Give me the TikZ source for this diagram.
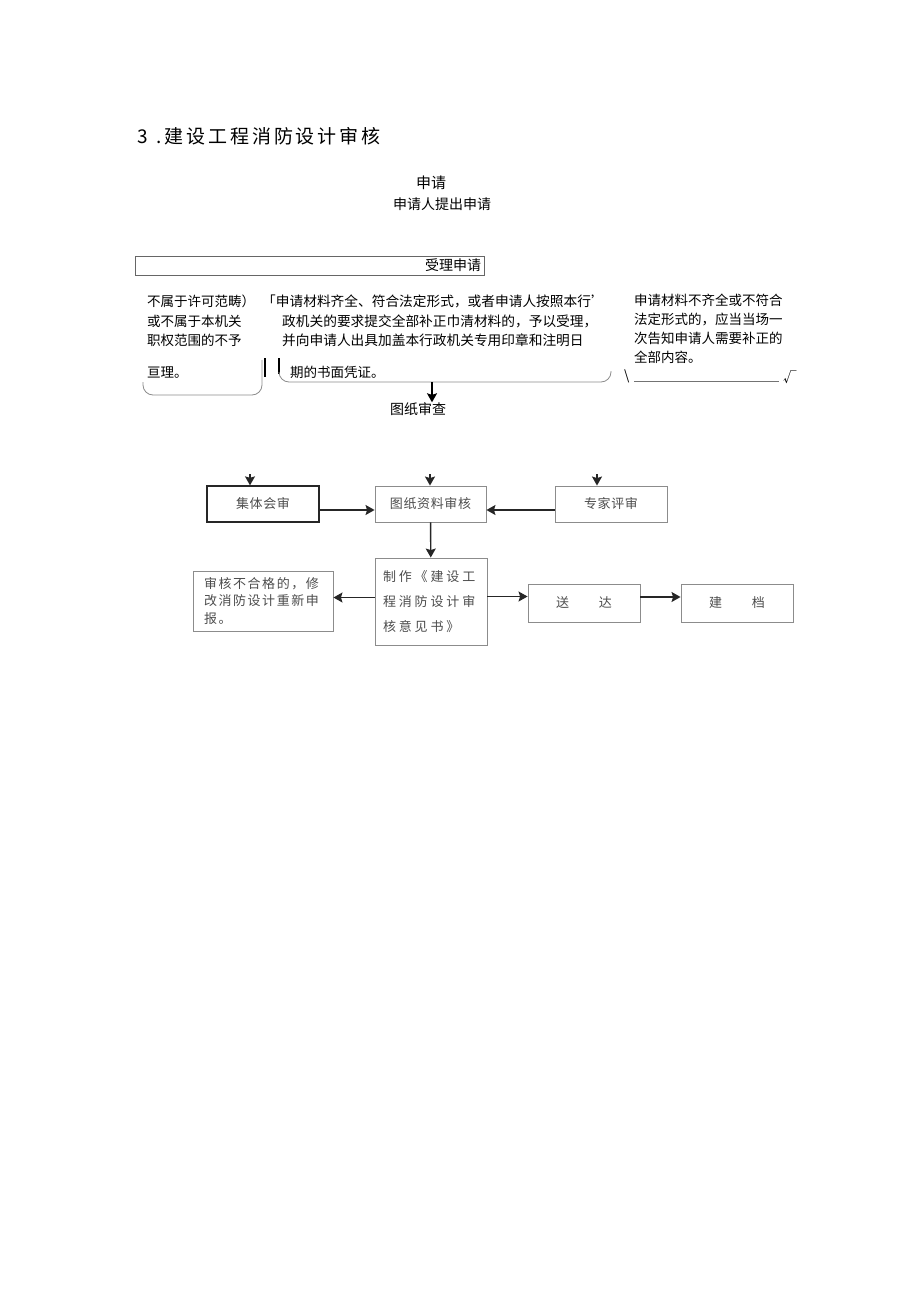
\documentclass[tikz,border=0pt]{standalone}
\usepackage{fontspec}
\setmainfont{Noto Sans CJK SC}
\usetikzlibrary{arrows.meta,positioning}

\begin{document}
\begin{tikzpicture}[x=1pt,y=-1pt,>={Stealth[length=9pt,width=10pt,inset=1.5pt]},
    txt/.style={inner sep=0pt,font=\fontsize{13.5}{19.5}\selectfont,align=left},
    flowbox/.style={draw=black!45,line width=0.9pt,minimum width=112pt,minimum height=36pt,
      inner sep=3pt,text=black!70,font=\fontsize{13}{25}\selectfont\addfontfeature{LetterSpace=5}},
    flow/.style={->,line width=1.4pt,black!85},
    brace/.style={black!45,line width=0.8pt,rounded corners=10pt}]
  \useasboundingbox (0,0) rectangle (920,1301);

  % heading
  \node[anchor=west,inner sep=0pt,font=\fontsize{19}{19}\selectfont] (title) at (137,136)
    {3\hspace{9pt}\addfontfeature{LetterSpace=15}.建设工程消防设计审核};

  % application
  \node[inner sep=0pt,font=\fontsize{15}{15}\selectfont] (sq) at (431,183) {申请};
  \node[inner sep=0pt,font=\fontsize{14}{14}\selectfont] (sqr) at (442,204) {申请人提出申请};

  \node[draw=black!60,line width=0.8pt,minimum height=19pt,text width=343pt,inner sep=3pt,
        align=right,font=\fontsize{14}{14}\selectfont] (slsq) at (309.5,265.5) {受理申请};

  % three outcomes
  \node[txt,anchor=north west] (bsl) at (147,295)
    {不属于许可范畴）\\或不属于本机关\\职权范围的不予};
  \node[txt,anchor=west] (bsl2) at (147,373) {亘理。};

  \node[txt,anchor=north west,font=\fontsize{13.7}{19.5}\selectfont] (yssl) at (262,295)
    {「申请材料齐全、符合法定形式，或者申请人按照本行’\\
     \hspace{20pt}政机关的要求提交全部补正巾清材料的，予以受理，\\
     \hspace{20pt}并向申请人出具加盖本行政机关专用印章和注明日};
  \node[txt,anchor=west] (yssl2) at (290,372) {期的书面凭证。};

  \node[txt,anchor=north west,font=\fontsize{13.5}{18.8}\selectfont] (bq) at (634,294)
    {申请材料不齐全或不符合\\法定形式的，应当当场一\\次告知申请人需要补正的\\全部内容。};
  \node[txt,anchor=west] (bq1) at (624,376) {\textbackslash};
  \node[txt,anchor=west] (bq2) at (783,377) {√};
  \draw[black!55,line width=0.7pt] (634,381) -- (779,381);

  % brackets
  \draw[brace] (262,360) -- (262,395) -- (143,395) -- (143,382);
  \draw[line width=2.2pt] (265,358) -- (265,377);
  \draw[line width=2.2pt] (279,358) -- (279,374);
  \draw[brace] (279,372) -- (279,382) -- (611,382) -- (611,371);

  \coordinate (ysout) at (432,382);
  \node[inner sep=0pt,font=\fontsize{14}{14}\selectfont] (tzsc) at (418,409) {图纸审查};
  \draw[->,line width=1.2pt] (ysout) -- (ysout |- tzsc.north);

  % review
  \node[flowbox,draw=black!85,line width=1.3pt] (jths) at (263,504) {集体会审};
  \node[flowbox,minimum width=111pt] (tzsh) at (430.5,504) {图纸资料审核};
  \node[flowbox] (zjps) at (611,504) {专家评审};

  \coordinate (jtin) at (250,474);
  \coordinate (tzin) at (430,474);
  \coordinate (zjin) at (597,474);
  \draw[flow] (jtin) -- (jtin |- jths.north);
  \draw[flow] (tzin) -- (tzin |- tzsh.north);
  \draw[flow] (zjin) -- (zjin |- zjps.north);

  \node[flowbox,minimum height=87pt,text width=96pt,
        font=\fontsize{13}{25}\selectfont\addfontfeature{LetterSpace=22}] (zzyj) at (431,601.5)
    {制作《建设工\\程消防设计审\\核意见书》};
  \node[flowbox,minimum width=140pt,minimum height=60pt,text width=118pt,
        font=\fontsize{13}{17.5}\selectfont\addfontfeature{LetterSpace=12}] (bhg) at (263,601)
    {审核不合格的，修\\改消防设计重新申\\报。};
  \node[flowbox,minimum height=38pt] (sd) at (584,603) {送\hspace{30pt}达};
  \node[flowbox,minimum height=38pt] (jd) at (737,603) {建\hspace{30pt}档};

  \draw[flow] ([yshift=-6pt]jths.east) -- ([yshift=-6pt]jths.east -| tzsh.west);
  \draw[flow] ([yshift=-6pt]zjps.west) -- ([yshift=-6pt]zjps.west -| tzsh.east);
  \draw[flow] (tzsh) -- (zzyj);
  \draw[flow] ([yshift=4pt]zzyj.west) -- ([yshift=4pt]zzyj.west -| bhg.east);
  \draw[flow] ([yshift=5pt]zzyj.east) -- ([yshift=5pt]zzyj.east -| sd.west);
  \draw[flow] ([yshift=6pt]sd.east) -- ([yshift=6pt]sd.east -| jd.west);
\end{tikzpicture}
\end{document}
